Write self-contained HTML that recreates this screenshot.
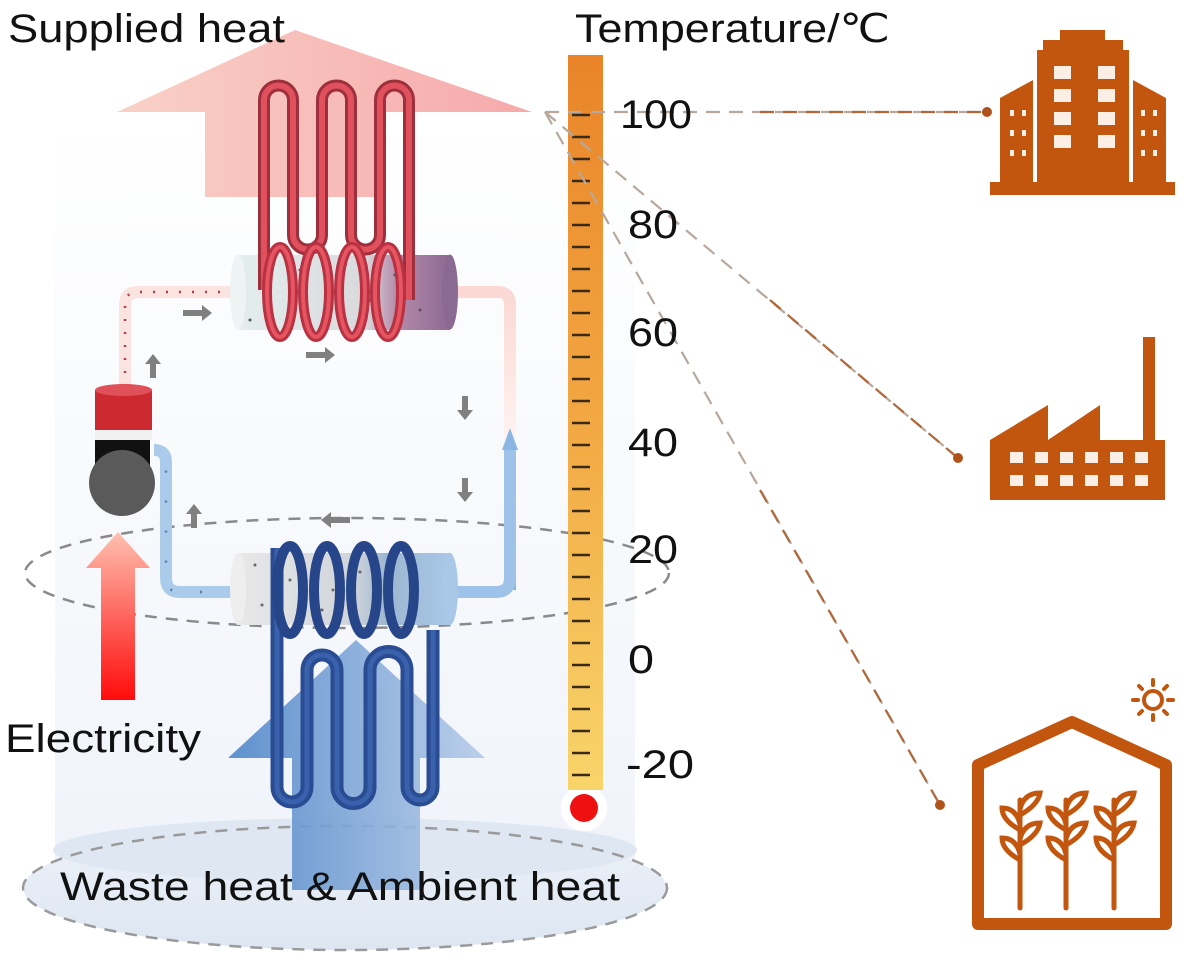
<!DOCTYPE html>
<html><head><meta charset="utf-8"><style>
html,body{margin:0;padding:0;background:#fff;}
svg{display:block;font-family:"Liberation Sans",Arial,sans-serif;}
</style></head><body>
<svg width="1189" height="962" viewBox="0 0 1189 962" xmlns="http://www.w3.org/2000/svg">
<defs>
<linearGradient id="bg" x1="0" y1="0" x2="0" y2="1"><stop offset="0" stop-color="#ffffff"/><stop offset="0.5" stop-color="#f7f9fc"/><stop offset="1" stop-color="#eef2f9"/></linearGradient>
<linearGradient id="therm" x1="0" y1="0" x2="0" y2="1"><stop offset="0" stop-color="#e98428"/><stop offset="0.5" stop-color="#f2a843"/><stop offset="1" stop-color="#f8d56a"/></linearGradient>
<linearGradient id="redarr" x1="0" y1="0" x2="1" y2="0"><stop offset="0" stop-color="#f8c9bd"/><stop offset="1" stop-color="#f49a9c"/></linearGradient>
<linearGradient id="bluearr" x1="0" y1="0" x2="1" y2="0"><stop offset="0" stop-color="#4f86c8"/><stop offset="1" stop-color="#b5cbe8"/></linearGradient>
<linearGradient id="elec" x1="0" y1="1" x2="0" y2="0"><stop offset="0" stop-color="#ff0b0b"/><stop offset="1" stop-color="#ffc0b0"/></linearGradient>
<linearGradient id="cylR" x1="0" y1="0" x2="1" y2="0"><stop offset="0" stop-color="#e4eeee"/><stop offset="0.6" stop-color="#d9d9dc"/><stop offset="0.75" stop-color="#b58aaa"/><stop offset="1" stop-color="#8c6a93"/></linearGradient>
<linearGradient id="cylB" x1="0" y1="0" x2="1" y2="0"><stop offset="0" stop-color="#e8e8e8"/><stop offset="0.55" stop-color="#d0d4da"/><stop offset="0.7" stop-color="#9bb6d0"/><stop offset="1" stop-color="#a9c8e8"/></linearGradient>
<linearGradient id="disc" x1="0" y1="0" x2="0" y2="1"><stop offset="0" stop-color="#eef2f8"/><stop offset="1" stop-color="#dde6f2"/></linearGradient>
<linearGradient id="hotpipe" x1="0" y1="0" x2="0" y2="1"><stop offset="0" stop-color="#fbd8d3"/><stop offset="1" stop-color="#fff3f0"/></linearGradient>
</defs>

<path d="M55 110 L55 890 A290 60 0 0 0 635 890 L635 110 Z" fill="url(#bg)"/>
<ellipse cx="345" cy="888" rx="322" ry="62" fill="url(#disc)"/>
<ellipse cx="345" cy="850" rx="292" ry="32" fill="#dfe7f3"/>
<ellipse cx="345" cy="888" rx="322" ry="62" fill="none" stroke="#9a9a9a" stroke-width="2.5" stroke-dasharray="12 9"/>

<polygon points="117,112 295,30 532,112 385,112 385,197 205,197 205,112" fill="url(#redarr)" opacity="0.85"/>

<ellipse cx="347" cy="573" rx="322" ry="55" fill="none" stroke="#8a8a8a" stroke-width="2.5" stroke-dasharray="12 9"/>

<polygon points="228,758 356,640 485,758 420,758 420,890 292,890 292,758" fill="url(#bluearr)" opacity="0.9"/>

<path d="M233 292 L138 292 Q125 292 125 305 L125 385" fill="none" stroke="#fbe3e0" stroke-width="12"/>
<path d="M233 292 L138 292 Q125 292 125 305 L125 385" fill="none" stroke="#b04050" stroke-width="2.5" stroke-dasharray="2 11"/>
<path d="M455 292 L498 292 Q510 292 510 305 L510 440" fill="none" stroke="url(#hotpipe)" stroke-width="12"/>
<path d="M510 590 L510 450" fill="none" stroke="#8ab6e3" stroke-width="12"/>
<polygon points="502,450 510,428 518,450" fill="#8ab6e3"/>
<path d="M510 450 L510 578 Q510 592 496 592 L455 592" fill="none" stroke="#9fc3e8" stroke-width="12"/>
<path d="M232 592 L180 592 Q166 592 166 578 L166 462 Q166 450 154 450" fill="none" stroke="#abcbeb" stroke-width="12"/>
<path d="M232 592 L180 592 Q166 592 166 578 L166 462" fill="none" stroke="#5a7ca8" stroke-width="2.5" stroke-dasharray="2 28"/>

<g fill="#808080">
<polygon points="183,310 202,310 202,305 212,313 202,321 202,316 183,316"/>
<polygon points="306,352 325,352 325,347 335,355 325,363 325,358 306,358"/>
<polygon points="150,378 150,364 145,364 153,354 161,364 156,364 156,378"/>
<polygon points="462,396 462,410 457,410 465,420 473,410 468,410 468,396"/>
<polygon points="462,478 462,492 457,492 465,502 473,492 468,492 468,478"/>
<polygon points="191,528 191,514 186,514 194,504 202,514 197,514 197,528"/>
<polygon points="350,517 331,517 331,512 321,520 331,528 331,523 350,523"/>
</g>

<rect x="238" y="255" width="212" height="75" fill="url(#cylR)"/>
<ellipse cx="238" cy="292" rx="8" ry="37.5" fill="#eef3f3"/>
<ellipse cx="450" cy="292" rx="8" ry="37.5" fill="#8a6a92"/>
<g fill="#555">
<circle cx="260" cy="280" r="1.5"/><circle cx="290" cy="300" r="1.5"/><circle cx="300" cy="270" r="1.5"/><circle cx="325" cy="310" r="1.5"/><circle cx="340" cy="280" r="1.5"/><circle cx="370" cy="300" r="1.5"/><circle cx="395" cy="275" r="1.5"/><circle cx="420" cy="310" r="1.5"/><circle cx="250" cy="320" r="1.5"/>
</g>
<path d="M264 290 L264 100 A14.5 14.5 0 0 1 293 100 L293 235 A14.5 14.5 0 0 0 322 235 L322 100 A14.5 14.5 0 0 1 351 100 L351 235 A14.5 14.5 0 0 0 380 235 L380 100 A14.5 14.5 0 0 1 409 100 L409 300" fill="none" stroke="#9e2f3c" stroke-width="12"/>
<path d="M264 290 L264 100 A14.5 14.5 0 0 1 293 100 L293 235 A14.5 14.5 0 0 0 322 235 L322 100 A14.5 14.5 0 0 1 351 100 L351 235 A14.5 14.5 0 0 0 380 235 L380 100 A14.5 14.5 0 0 1 409 100 L409 300" fill="none" stroke="#e0505d" stroke-width="6"/>
<g fill="none" stroke="#b83242" stroke-width="10">
<ellipse cx="280" cy="292" rx="13" ry="45"/><ellipse cx="316" cy="292" rx="13" ry="45"/><ellipse cx="352" cy="292" rx="13" ry="45"/><ellipse cx="388" cy="292" rx="13" ry="45"/>
</g>
<g fill="none" stroke="#e65561" stroke-width="4">
<ellipse cx="280" cy="292" rx="13" ry="45"/><ellipse cx="316" cy="292" rx="13" ry="45"/><ellipse cx="352" cy="292" rx="13" ry="45"/><ellipse cx="388" cy="292" rx="13" ry="45"/>
</g>

<rect x="238" y="553" width="212" height="72" fill="url(#cylB)"/>
<ellipse cx="238" cy="589" rx="8" ry="36" fill="#eeeeee"/>
<ellipse cx="450" cy="589" rx="8" ry="36" fill="#a9c8e8"/>
<g fill="#666"><circle cx="255" cy="565" r="1.5"/><circle cx="262" cy="605" r="1.5"/><circle cx="290" cy="580" r="1.5"/><circle cx="322" cy="610" r="1.5"/><circle cx="333" cy="590" r="1.5"/><circle cx="360" cy="572" r="1.5"/></g>
<path d="M277 548 L277 787 A15 15 0 0 0 307 787 L307 670 A15 15 0 0 1 337 670 L337 787 A16.5 16.5 0 0 0 370 787 L370 670 A18.5 18.5 0 0 1 407 670 L407 787 A13 13 0 0 0 433 787 L433 630" fill="none" stroke="#2a4c92" stroke-width="13"/>
<path d="M277 548 L277 787 A15 15 0 0 0 307 787 L307 670 A15 15 0 0 1 337 670 L337 787 A16.5 16.5 0 0 0 370 787 L370 670 A18.5 18.5 0 0 1 407 670 L407 787 A13 13 0 0 0 433 787 L433 630" fill="none" stroke="#3a62ac" stroke-width="5"/>
<g fill="none" stroke="#27468a" stroke-width="10">
<ellipse cx="290" cy="590" rx="13" ry="44"/><ellipse cx="327" cy="590" rx="13" ry="44"/><ellipse cx="364" cy="590" rx="13" ry="44"/><ellipse cx="401" cy="590" rx="13" ry="44"/>
</g>

<rect x="95" y="390" width="57" height="42" fill="#cc2a30"/>
<ellipse cx="123.5" cy="390" rx="28.5" ry="6" fill="#e05058"/>
<rect x="95" y="430" width="57" height="10" fill="#f0f0f0"/>
<rect x="95" y="440" width="55" height="32" fill="#111"/>
<circle cx="122" cy="483" r="33" fill="#5a5a5a"/>

<polygon points="118,532 150,568 135,568 135,700 101,700 101,568 86,568" fill="url(#elec)"/>

<circle cx="584" cy="808" r="23" fill="#fff"/>
<circle cx="584" cy="808" r="14" fill="#ee1111"/>
<rect x="568" y="55" width="35" height="735" fill="url(#therm)"/>
<g stroke="#3a2a1a" stroke-width="2.5">
<line x1="572" y1="115" x2="590" y2="115"/><line x1="572" y1="137" x2="590" y2="137"/><line x1="572" y1="159" x2="590" y2="159"/><line x1="572" y1="181" x2="590" y2="181"/><line x1="572" y1="203" x2="590" y2="203"/><line x1="572" y1="225" x2="590" y2="225"/><line x1="572" y1="247" x2="590" y2="247"/><line x1="572" y1="269" x2="590" y2="269"/><line x1="572" y1="291" x2="590" y2="291"/><line x1="572" y1="313" x2="590" y2="313"/><line x1="572" y1="335" x2="590" y2="335"/><line x1="572" y1="357" x2="590" y2="357"/><line x1="572" y1="379" x2="590" y2="379"/><line x1="572" y1="401" x2="590" y2="401"/><line x1="572" y1="423" x2="590" y2="423"/><line x1="572" y1="445" x2="590" y2="445"/><line x1="572" y1="467" x2="590" y2="467"/><line x1="572" y1="489" x2="590" y2="489"/><line x1="572" y1="511" x2="590" y2="511"/><line x1="572" y1="533" x2="590" y2="533"/><line x1="572" y1="555" x2="590" y2="555"/><line x1="572" y1="577" x2="590" y2="577"/><line x1="572" y1="599" x2="590" y2="599"/><line x1="572" y1="621" x2="590" y2="621"/><line x1="572" y1="643" x2="590" y2="643"/><line x1="572" y1="665" x2="590" y2="665"/><line x1="572" y1="687" x2="590" y2="687"/><line x1="572" y1="709" x2="590" y2="709"/><line x1="572" y1="731" x2="590" y2="731"/><line x1="572" y1="753" x2="590" y2="753"/><line x1="572" y1="775" x2="590" y2="775"/>
</g>

<g fill="none" stroke-width="2.2" stroke-dasharray="14 9">
<path d="M545 112 L985 112" stroke="#b8a89c"/>
<path d="M545 112 L958 458" stroke="#b8a89c"/>
<path d="M545 112 L940 805" stroke="#b8a89c"/>
</g>
<g fill="none" stroke-width="2.2" stroke-dasharray="14 9" stroke="#b0683a">
<path d="M760 112 L985 112"/><path d="M770 300 L958 458"/><path d="M760 490 L940 805"/>
</g>
<g fill="#b0521a"><circle cx="987" cy="112" r="5"/><circle cx="958" cy="458" r="5"/><circle cx="940" cy="805" r="5"/></g>

<g font-size="40" fill="#111" lengthAdjust="spacingAndGlyphs">
<text x="620" y="128" textLength="72" lengthAdjust="spacingAndGlyphs">100</text>
<text x="628" y="238" textLength="50" lengthAdjust="spacingAndGlyphs">80</text>
<text x="628" y="346" textLength="50" lengthAdjust="spacingAndGlyphs">60</text>
<text x="628" y="456" textLength="50" lengthAdjust="spacingAndGlyphs">40</text>
<text x="628" y="563" textLength="50" lengthAdjust="spacingAndGlyphs">20</text>
<text x="628" y="673" textLength="26" lengthAdjust="spacingAndGlyphs">0</text>
<text x="626" y="778" textLength="68" lengthAdjust="spacingAndGlyphs">-20</text>
</g>

<g fill="#c2560f">
<rect x="1060" y="30" width="45" height="12"/>
<rect x="1043" y="40" width="80" height="14"/>
<rect x="1037" y="50" width="92" height="135"/>
<polygon points="1000,98 1033,80 1033,185 1000,185"/>
<polygon points="1133,80 1166,98 1166,185 1133,185"/>
<rect x="990" y="182" width="185" height="13"/>
</g>
<g fill="#fbeee4">
<rect x="1054" y="66" width="17" height="13"/><rect x="1098" y="66" width="17" height="13"/>
<rect x="1054" y="89" width="17" height="13"/><rect x="1098" y="89" width="17" height="13"/>
<rect x="1054" y="112" width="17" height="13"/><rect x="1098" y="112" width="17" height="13"/>
<rect x="1054" y="135" width="17" height="13"/><rect x="1098" y="135" width="17" height="13"/>
<rect x="1010" y="110" width="4" height="6"/><rect x="1022" y="110" width="4" height="6"/><rect x="1010" y="130" width="4" height="6"/><rect x="1022" y="130" width="4" height="6"/><rect x="1010" y="150" width="4" height="6"/><rect x="1022" y="150" width="4" height="6"/>
<rect x="1141" y="110" width="4" height="6"/><rect x="1153" y="110" width="4" height="6"/><rect x="1141" y="130" width="4" height="6"/><rect x="1153" y="130" width="4" height="6"/><rect x="1141" y="150" width="4" height="6"/><rect x="1153" y="150" width="4" height="6"/>
</g>

<g fill="#c2560f">
<rect x="1143" y="337" width="12" height="105"/>
<polygon points="990,440 1048,405 1048,440 1100,405 1100,440 1165,440 1165,500 990,500"/>
</g>
<g fill="#fbeee4">
<rect x="1010" y="452" width="13" height="11"/><rect x="1035" y="452" width="13" height="11"/><rect x="1060" y="452" width="13" height="11"/><rect x="1085" y="452" width="13" height="11"/><rect x="1110" y="452" width="13" height="11"/><rect x="1135" y="452" width="13" height="11"/>
<rect x="1010" y="475" width="13" height="11"/><rect x="1035" y="475" width="13" height="11"/><rect x="1060" y="475" width="13" height="11"/><rect x="1085" y="475" width="13" height="11"/><rect x="1110" y="475" width="13" height="11"/><rect x="1135" y="475" width="13" height="11"/>
</g>

<path d="M978 765 L1072 722 L1166 765 L1166 924 L978 924 Z" fill="none" stroke="#c2560f" stroke-width="12" stroke-linejoin="round"/>
<g fill="none" stroke="#c2560f" stroke-width="5" stroke-linecap="round">
<path d="M1020 908 L1020 800"/><path d="M1020 830 q-18 -10 -18 -22 q14 0 18 16"/><path d="M1020 860 q-18 -10 -18 -22 q14 0 18 16"/><path d="M1020 815 q18 -10 20 -22 q-16 0 -20 16"/><path d="M1020 845 q18 -10 20 -22 q-16 0 -20 16"/>
<path d="M1066 908 L1066 800"/><path d="M1066 830 q-18 -10 -18 -22 q14 0 18 16"/><path d="M1066 860 q-18 -10 -18 -22 q14 0 18 16"/><path d="M1066 815 q18 -10 20 -22 q-16 0 -20 16"/><path d="M1066 845 q18 -10 20 -22 q-16 0 -20 16"/>
<path d="M1114 908 L1114 800"/><path d="M1114 830 q-18 -10 -18 -22 q14 0 18 16"/><path d="M1114 860 q-18 -10 -18 -22 q14 0 18 16"/><path d="M1114 815 q18 -10 20 -22 q-16 0 -20 16"/><path d="M1114 845 q18 -10 20 -22 q-16 0 -20 16"/>
</g>
<g stroke="#c2560f" stroke-width="4" stroke-linecap="round" fill="none">
<circle cx="1153" cy="700" r="9"/>
<line x1="1153" y1="680" x2="1153" y2="685"/><line x1="1153" y1="715" x2="1153" y2="720"/><line x1="1133" y1="700" x2="1138" y2="700"/><line x1="1168" y1="700" x2="1173" y2="700"/>
<line x1="1139" y1="686" x2="1142" y2="689"/><line x1="1164" y1="711" x2="1167" y2="714"/><line x1="1139" y1="714" x2="1142" y2="711"/><line x1="1164" y1="689" x2="1167" y2="686"/>
</g>

<g fill="#111" font-size="40">
<text x="8" y="42" textLength="277" lengthAdjust="spacingAndGlyphs">Supplied heat</text>
<text x="575" y="42" textLength="315" lengthAdjust="spacingAndGlyphs">Temperature/℃</text>
<text x="5" y="752" textLength="196" lengthAdjust="spacingAndGlyphs">Electricity</text>
<text x="60" y="900" textLength="560" lengthAdjust="spacingAndGlyphs">Waste heat &amp; Ambient heat</text>
</g>
</svg>
</body></html>
